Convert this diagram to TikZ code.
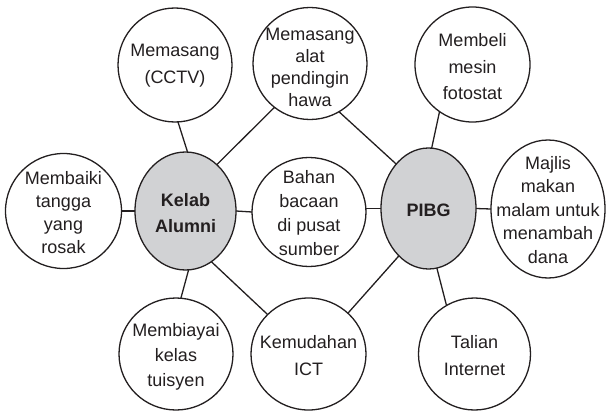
\documentclass[tikz,border=0pt]{standalone}
\usepackage{fontspec}
\setmainfont{Liberation Sans}
\usetikzlibrary{shapes.geometric}
\definecolor{hubgray}{HTML}{D1D2D4}
\definecolor{inkcol}{HTML}{231F20}
\begin{document}
\begin{tikzpicture}[x=1pt,y=-1pt,
  bub/.style={draw=inkcol, line width=1.3pt, ellipse, inner sep=0pt, outer sep=0pt, fill=white},
  hub/.style={bub, fill=hubgray},
  txt/.style={align=center, font=\fontsize{18}{25}\selectfont, text=inkcol, inner sep=0pt},
  link/.style={line width=1.3pt, draw=inkcol}]
\useasboundingbox (0,0) rectangle (607,412);

% bubbles
\node[bub, minimum width=114pt, minimum height=114pt] (cctv)   at (175,65)    {};
\node[bub, minimum width=114pt, minimum height=112pt] (hawa)   at (310,63.5)  {};
\node[bub, minimum width=115pt, minimum height=115pt] (beli)   at (472.5,64.5){};
\node[bub, minimum width=116pt, minimum height=115pt] (baiki)  at (63.5,211)  {};
\node[hub, minimum width=101pt, minimum height=118pt] (kelab)  at (185.5,211) {};
\node[bub, minimum width=114pt, minimum height=109pt] (bahan)  at (309,212)   {};
\node[hub, minimum width=95pt,  minimum height=121pt] (pibg)   at (428.5,208.5){};
\node[bub, minimum width=114pt, minimum height=138pt] (majlis) at (548,209)   {};
\node[bub, minimum width=114pt, minimum height=112pt] (biayai) at (176,354)   {};
\node[bub, minimum width=115pt, minimum height=112pt] (ict)    at (308.5,354) {};
\node[bub, minimum width=112pt, minimum height=112pt] (talian) at (474.5,354) {};

% texts
\node[txt, font=\fontsize{18}{27}\selectfont] (cctvT) at (175,66) {Memasang\\(CCTV)};
\node[txt, font=\fontsize{18}{22}\selectfont] (hawaT) at (310,67) {Memasang\\alat\\pendingin\\hawa};
\node[txt, font=\fontsize{18}{26.5}\selectfont] (beliT) at (472.5,67) {Membeli\\mesin\\fotostat};
\node[txt, font=\fontsize{18}{23}\selectfont] (baikiT) at (63.5,213) {Membaiki\\tangga\\yang\\rosak};
\node[txt, font=\fontsize{18}{26}\bfseries\selectfont] (kelabT) at (185.5,213) {Kelab\\Alumni};
\node[txt, font=\fontsize{18}{24}\selectfont] (bahanT) at (309,213) {Bahan\\bacaan\\di pusat\\sumber};
\node[txt, font=\fontsize{18}{25}\bfseries\selectfont] (pibgT) at (428.5,210) {PIBG};
\node[txt, font=\fontsize{18}{23.5}\selectfont] (majlisT) at (548,210) {Majlis\\makan\\malam untuk\\menambah\\dana};
\node[txt, font=\fontsize{18}{25}\selectfont] (biayaiT) at (176,357) {Membiayai\\kelas\\tuisyen};
\node[txt, font=\fontsize{18}{27}\selectfont] (ictT) at (308.5,356) {Kemudahan\\ICT};
\node[txt, font=\fontsize{18}{27}\selectfont] (talianT) at (474.5,356) {Talian\\Internet};

% connectors
\draw[link] (kelab.88.5) -- (cctv.273);
\draw[link] (kelab.56.7) -- (hawa.231);
\draw[link] (kelab.west) -- (baiki.east);
\draw[link] (kelab.east) -- (bahan.west);
\draw[link] (kelab.-87.6) -- (biayai.85);
\draw[link] (kelab.-63.9) -- (ict.136);
\draw[link] (pibg.126.8) -- (hawa.-59.5);
\draw[link] (pibg.87.5) -- (beli.-125.2);
\draw[link] (pibg.west) -- (pibg.west -| bahan.east);
\draw[link] (pibg.east) -- (majlis.west);
\draw[link] (pibg.-122) -- (ict.46);
\draw[link] (pibg.-82.8) -- (talian.120);
\end{tikzpicture}
\end{document}
